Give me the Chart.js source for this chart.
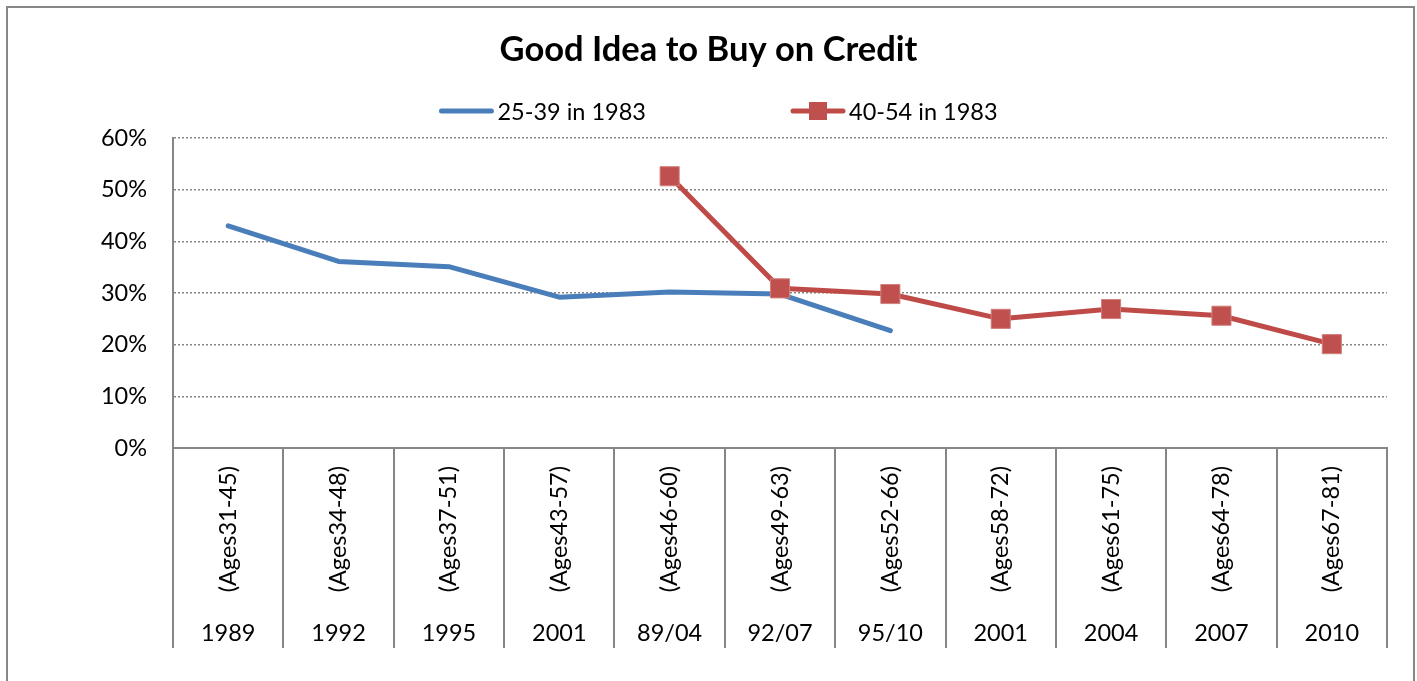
<!DOCTYPE html>
<html>
<head>
<meta charset="utf-8">
<script src="https://cdn.jsdelivr.net/npm/chart.js@4"></script>
<style>
    html, body { margin: 0; padding: 0; background: #fff; }
    #wrap { position: relative; width: 1417px; height: 681px; overflow: hidden; }
    #frame { position: absolute; left: 6px; top: 6px; width: 1405px; height: 700px; border: 2px solid #878787; pointer-events: none; }
</style>
</head>
<body>
<div id="wrap">
    <canvas id="creditChart" width="1417" height="681"></canvas>
    <div id="frame"></div>
</div>
<script>
const ageGroups = ['(Ages31-45)', '(Ages34-48)', '(Ages37-51)', '(Ages43-57)', '(Ages46-60)', '(Ages49-63)',
    '(Ages52-66)', '(Ages58-72)', '(Ages61-75)', '(Ages64-78)', '(Ages67-81)'];
const years = ['1989', '1992', '1995', '2001', '89/04', '92/07', '95/10', '2001', '2004', '2007', '2010'];
const cohort2539 = [43, 36.1, 35.1, 29.2, 30.2, 29.8, 22.7, null, null, null, null];
const cohort4054 = [null, null, null, null, 52.6, 30.9, 29.8, 25, 26.9, 25.6, 20.1];
const yTicks = [0, 10, 20, 30, 40, 50, 60];

const FONT = 'Lato';
const GRAY = '#868686';

// vertical separators of the two-level category axis
const separators = {
    id: 'separators',
    afterDraw(chart) {
        const x = chart.scales.x, x2 = chart.scales.x2;
        const n = ageGroups.length;
        const step = x.getPixelForValue(1) - x.getPixelForValue(0);
        const ctx = chart.ctx;
        ctx.save();
        ctx.strokeStyle = GRAY;
        ctx.lineWidth = 2;
        ctx.beginPath();
        for (let i = 0; i <= n; i++) {
            const px = Math.round(x.getPixelForValue(0) - step / 2 + i * step);
            ctx.moveTo(px, x.top);
            ctx.lineTo(px, x2.bottom);
        }
        ctx.stroke();
        ctx.restore();
    }
};

// excel style legend: line sample with marker, wide gap between items
const lineLegend = {
    id: 'lineLegend',
    afterDraw(chart) {
        const ctx = chart.ctx;
        const sets = chart.data.datasets;
        const sample = 54, gapText = 4, gapItem = 145;
        ctx.save();
        ctx.font = '23.5px ' + FONT;
        ctx.textBaseline = 'middle';
        let total = 0;
        sets.forEach((ds, i) => {
            total += sample + gapText + ctx.measureText(ds.label).width;
            if (i < sets.length - 1) total += gapItem;
        });
        let cx = chart.width / 2 - total / 2 + 10;
        const cy = 111;
        sets.forEach(ds => {
            ctx.strokeStyle = ds.borderColor;
            ctx.lineWidth = ds.borderWidth;
            ctx.lineCap = 'round';
            ctx.beginPath();
            ctx.moveTo(cx + 2, cy);
            ctx.lineTo(cx + sample - 2, cy);
            ctx.stroke();
            if (ds.pointRadius > 0) {
                const s = 18;
                ctx.fillStyle = ds.pointBackgroundColor;
                ctx.fillRect(cx + sample / 2 - s / 2, cy - s / 2, s, s);
            }
            ctx.fillStyle = '#000';
            ctx.fillText(ds.label, cx + sample + gapText, cy + 1);
            cx += sample + gapText + ctx.measureText(ds.label).width + gapItem;
        });
        ctx.restore();
    }
};

const ctx = document.getElementById('creditChart');

new Chart(ctx, {
    type: 'line',
    data: {
        labels: ageGroups,
        datasets: [{
            label: '25-39 in 1983',
            data: cohort2539,
            borderColor: '#4A7EBB',
            backgroundColor: '#4A7EBB',
            borderWidth: 5,
            borderCapStyle: 'round',
            borderJoinStyle: 'round',
            pointRadius: 0,
            pointHoverRadius: 0,
            spanGaps: false,
            order: 1
        }, {
            label: '40-54 in 1983',
            data: cohort4054,
            borderColor: '#BE4B48',
            backgroundColor: '#C0504D',
            borderWidth: 5,
            borderJoinStyle: 'round',
            pointStyle: 'rect',
            pointRadius: 13.5,
            pointBorderWidth: 1,
            pointBorderColor: '#D0807E',
            pointBackgroundColor: '#C0504D',
            order: 0
        }]
    },
    options: {
        responsive: false,
        animation: false,
        layout: {
            padding: {left: 30, right: 30, top: 0, bottom: 33}
        },
        scales: {
            y: {
                min: 0,
                max: 60,
                afterFit: function (scale) {
                    scale.width = 143;
                },
                afterBuildTicks: function (scale) {
                    scale.ticks = yTicks.map(v => ({value: v}));
                },
                ticks: {
                    padding: 26,
                    color: '#000',
                    font: {family: FONT, size: 23.5},
                    callback: function (value) {
                        return value + '%';
                    }
                },
                grid: {
                    color: GRAY,
                    lineWidth: 1.5,
                    drawTicks: false
                },
                border: {
                    color: GRAY,
                    width: 2,
                    dash: [2, 2]
                }
            },
            x: {
                type: 'category',
                offset: true,
                afterFit: function (scale) {
                    scale.height = 150;
                },
                ticks: {
                    autoSkip: false,
                    minRotation: 90,
                    maxRotation: 90,
                    padding: 18,
                    color: '#000',
                    font: {family: FONT, size: 23.5}
                },
                grid: {
                    display: false,
                    drawTicks: false
                },
                border: {
                    display: true,
                    color: GRAY,
                    width: 2
                }
            },
            x2: {
                type: 'category',
                position: 'bottom',
                labels: years,
                offset: true,
                afterFit: function (scale) {
                    scale.height = 50;
                },
                ticks: {
                    autoSkip: false,
                    maxRotation: 0,
                    padding: 21,
                    color: '#000',
                    font: {family: FONT, size: 23.5}
                },
                grid: {
                    display: false,
                    drawTicks: false
                },
                border: {
                    display: false
                }
            }
        },
        plugins: {
            title: {
                display: true,
                text: 'Good Idea to Buy on Credit',
                color: '#000',
                font: {family: FONT, size: 34.5, weight: 'bold'},
                padding: {top: 29.3, bottom: 67.3}
            },
            legend: {
                display: false
            },
            tooltip: {
                enabled: false
            }
        }
    },
    plugins: [separators, lineLegend]
});
</script>
</body>
</html>
